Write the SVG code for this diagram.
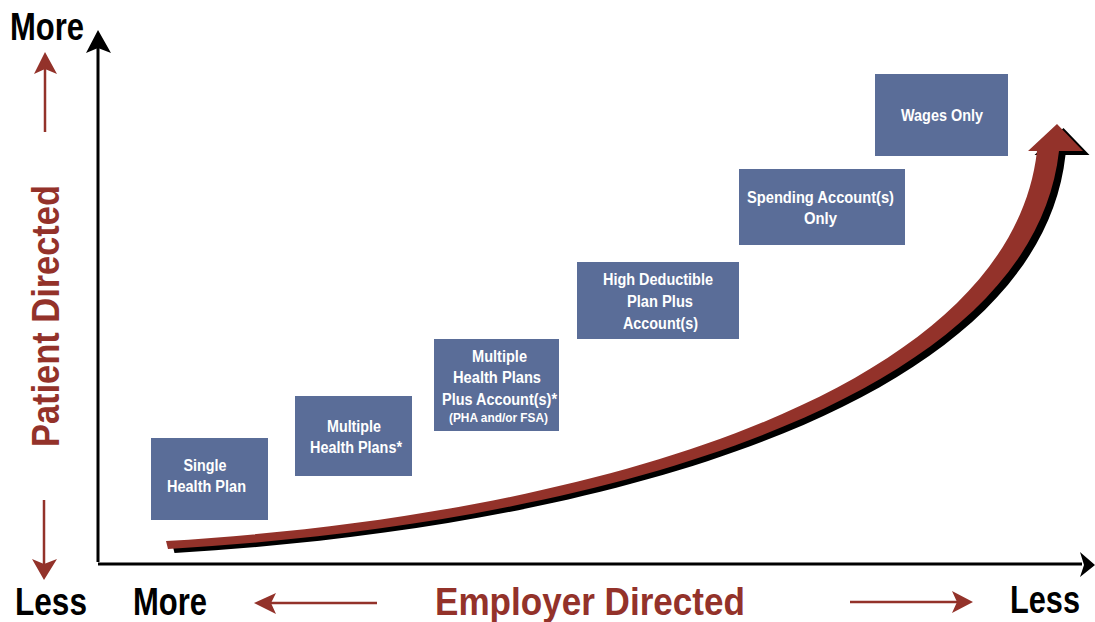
<svg xmlns="http://www.w3.org/2000/svg" width="1095" height="622" viewBox="0 0 1095 622">
<style>
.box{fill:#5a6d98}
.bt{font-family:"Liberation Sans",Arial,sans-serif;font-weight:bold;font-size:16px;fill:#fff;text-anchor:middle}
.sm{font-size:12px}
.big{font-family:"Liberation Sans",Arial,sans-serif;font-weight:bold;font-size:38px}
.red{fill:#93322a}
.blk{fill:#000}
.axis{stroke:#000;stroke-width:3;fill:none}
.rl{stroke:#93322a;stroke-width:2.5;fill:none}
</style>
<rect width="1095" height="622" fill="#fff"/>
<g id="axes">
<line class="axis" x1="98" y1="562" x2="98" y2="48"/>
<polygon class="blk" points="98,30 86,53 98,48 111,53"/>
<line class="axis" x1="98" y1="564" x2="1082" y2="564"/>
<polygon class="blk" points="1095,565 1080,552 1084,565 1080,577"/>
</g>
<g id="side-arrows">
<line class="rl" x1="45" y1="132" x2="45" y2="68"/>
<polygon class="red" points="45,52 34,74 45,69 57,74"/>
<line class="rl" x1="44" y1="500" x2="44" y2="565"/>
<polygon class="red" points="44,580 32,559 44,564 57,559"/>
<line class="rl" x1="377" y1="603" x2="270" y2="603"/>
<polygon class="red" points="254,603 276,593 271,603 276,614"/>
<line class="rl" x1="850" y1="602" x2="958" y2="602"/>
<polygon class="red" points="973,602 952,591 957,602 952,613"/>
</g>
<g id="labels">
<text class="big blk" x="10" y="40" textLength="74" lengthAdjust="spacingAndGlyphs">More</text>
<text class="big blk" x="15" y="615" textLength="72" lengthAdjust="spacingAndGlyphs">Less</text>
<text class="big blk" x="133" y="615" textLength="74" lengthAdjust="spacingAndGlyphs">More</text>
<text class="big red" x="435" y="615" textLength="310" lengthAdjust="spacingAndGlyphs">Employer Directed</text>
<text class="big blk" x="1010" y="613" textLength="70" lengthAdjust="spacingAndGlyphs">Less</text>
<text class="big red" transform="translate(59,447) rotate(-90)" x="0" y="0" textLength="262" lengthAdjust="spacingAndGlyphs">Patient Directed</text>
</g>
<g id="curve-arrow">
<path class="blk" transform="translate(6.5,4)" d="M166,541 C600,515 1010,390 1037,151 L1028,151 L1057,124 L1083,151 L1059,151 C1032,397 610,523 168,549 Z"/>
<path class="red" d="M166,541 C600,515 1010,390 1037,151 L1028,151 L1057,124 L1083,151 L1059,151 C1032,397 610,523 168,549 Z"/>
</g>
<g id="node-single">
<rect class="box" x="151" y="438" width="117" height="82"/>
<text class="bt" x="205" y="471" textLength="43" lengthAdjust="spacingAndGlyphs">Single</text>
<text class="bt" x="206.5" y="492" textLength="79" lengthAdjust="spacingAndGlyphs">Health Plan</text>
</g>
<g id="node-multiple">
<rect class="box" x="295" y="396" width="117" height="80"/>
<text class="bt" x="354" y="432" textLength="54" lengthAdjust="spacingAndGlyphs">Multiple</text>
<text class="bt" x="356" y="453" textLength="92" lengthAdjust="spacingAndGlyphs">Health Plans*</text>
</g>
<g id="node-multiple-plus">
<rect class="box" x="434" y="339" width="125" height="92"/>
<text class="bt" x="499.5" y="362" textLength="55" lengthAdjust="spacingAndGlyphs">Multiple</text>
<text class="bt" x="497" y="383" textLength="88" lengthAdjust="spacingAndGlyphs">Health Plans</text>
<text class="bt" x="499.5" y="405" textLength="115" lengthAdjust="spacingAndGlyphs">Plus Account(s)*</text>
<text class="bt sm" x="498.5" y="422" textLength="99" lengthAdjust="spacingAndGlyphs">(PHA and/or FSA)</text>
</g>
<g id="node-hdhp">
<rect class="box" x="577" y="262" width="162" height="77"/>
<text class="bt" x="658" y="285" textLength="110" lengthAdjust="spacingAndGlyphs">High Deductible</text>
<text class="bt" x="660" y="307" textLength="66" lengthAdjust="spacingAndGlyphs">Plan Plus</text>
<text class="bt" x="660.5" y="329" textLength="75" lengthAdjust="spacingAndGlyphs">Account(s)</text>
</g>
<g id="node-spending">
<rect class="box" x="739" y="169" width="166" height="76"/>
<text class="bt" x="820.5" y="203" textLength="147" lengthAdjust="spacingAndGlyphs">Spending Account(s)</text>
<text class="bt" x="820.5" y="224" textLength="33" lengthAdjust="spacingAndGlyphs">Only</text>
</g>
<g id="node-wages">
<rect class="box" x="875" y="74" width="133" height="82"/>
<text class="bt" x="942" y="121" textLength="82" lengthAdjust="spacingAndGlyphs">Wages Only</text>
</g>
</svg>
